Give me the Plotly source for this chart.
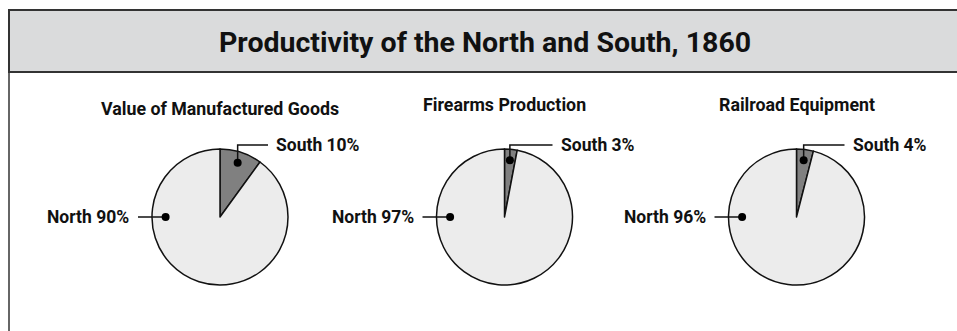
import math
import plotly.graph_objects as go

# ---------------- data ----------------
chart_title = "Productivity of the North and South, 1860"
categories = ["Value of Manufactured Goods", "Firearms Production", "Railroad Equipment"]
regions = ["South", "North"]
south_pct = [10, 3, 4]
north_pct = [90, 97, 96]

# ---------------- layout constants (pixels) ----------------
W, H = 957, 331
centers_x = [220, 504.5, 796.5]
subtitle_y = [108, 104.5, 104.5]
center_y = 217
R = 68
FONT = "Roboto, Liberation Sans, sans-serif"
NORTH_FILL = "#ececec"
SOUTH_FILL = "#808080"
INK = "#111111"

fig = go.Figure()

annotations = []
shapes = []

# frame + header band
shapes.append(dict(type="rect", xref="x", yref="y", x0=9, x1=W + 5, y0=10, y1=72,
                   fillcolor="#dadbdc", line=dict(color="#333333", width=2), layer="below"))
shapes.append(dict(type="line", xref="x", yref="y", x0=9, x1=9, y0=72, y1=H + 5,
                   line=dict(color="#333333", width=1.5)))

annotations.append(dict(text="<b>%s</b>" % chart_title, x=485, y=42, xref="x", yref="y",
                        xanchor="center", yanchor="middle", showarrow=False,
                        font=dict(family=FONT, size=28.5, color=INK)))

for i, cat in enumerate(categories):
    cx = centers_x[i]
    vals = [south_pct[i], north_pct[i]]
    fig.add_trace(go.Pie(
        values=vals, labels=regions, sort=False, direction="clockwise", rotation=0,
        textinfo="none", hoverinfo="skip", showlegend=False,
        marker=dict(colors=[SOUTH_FILL, NORTH_FILL], line=dict(color=INK, width=1.5)),
        domain=dict(x=[(cx - R) / W, (cx + R) / W],
                    y=[1 - (center_y + R) / H, 1 - (center_y - R) / H]),
    ))
    # subtitle
    annotations.append(dict(text="<b>%s</b>" % cat, x=cx, y=subtitle_y[i], xref="x", yref="y",
                            xanchor="center", yanchor="middle", showarrow=False,
                            font=dict(family=FONT, size=17.8, color=INK)))

    # South dot: mid-angle of the south slice (clockwise from 12 o'clock)
    total = sum(vals)
    ang_s = math.radians(360 * south_pct[i] / total / 2)
    sx = cx + 0.84 * R * math.sin(ang_s)
    sy = center_y - 0.84 * R * math.cos(ang_s)
    ly = center_y - 72
    shapes.append(dict(type="path", xref="x", yref="y", layer="above",
                       path="M %.2f %.2f L %.2f %.2f L %.2f %.2f" % (sx, sy, sx, ly, cx + 48, ly),
                       line=dict(color=INK, width=1.5)))
    annotations.append(dict(text="<b>%s %d%%</b>" % (regions[0], south_pct[i]),
                            x=cx + 54, y=ly, xref="x", yref="y", xanchor="left",
                            yanchor="middle", showarrow=False,
                            font=dict(family=FONT, size=17.5, color=INK)))

    # North dot: at 9 o'clock inside the north slice
    nx = cx - 0.80 * R
    ny = center_y
    shapes.append(dict(type="line", xref="x", yref="y", layer="above",
                       x0=cx - 82, x1=nx, y0=ny, y1=ny, line=dict(color=INK, width=1.5)))
    annotations.append(dict(text="<b>%s %d%%</b>" % (regions[1], north_pct[i]),
                            x=cx - 89, y=ny, xref="x", yref="y", xanchor="right",
                            yanchor="middle", showarrow=False,
                            font=dict(family=FONT, size=17.5, color=INK)))

    for (px, py) in [(sx, sy), (nx, ny)]:
        shapes.append(dict(type="circle", xref="x", yref="y", layer="above",
                           x0=px - 4, x1=px + 4, y0=py - 4, y1=py + 4,
                           fillcolor="#000000", line=dict(width=0)))

fig.update_layout(
    width=W, height=H, margin=dict(l=0, r=0, t=0, b=0),
    paper_bgcolor="white", plot_bgcolor="rgba(0,0,0,0)",
    xaxis=dict(range=[0, W], visible=False, fixedrange=True, domain=[0, 1]),
    yaxis=dict(range=[H, 0], visible=False, fixedrange=True, domain=[0, 1]),
    shapes=shapes, annotations=annotations,
)

fig.write_html("out.html", config=dict(displayModeBar=False))
